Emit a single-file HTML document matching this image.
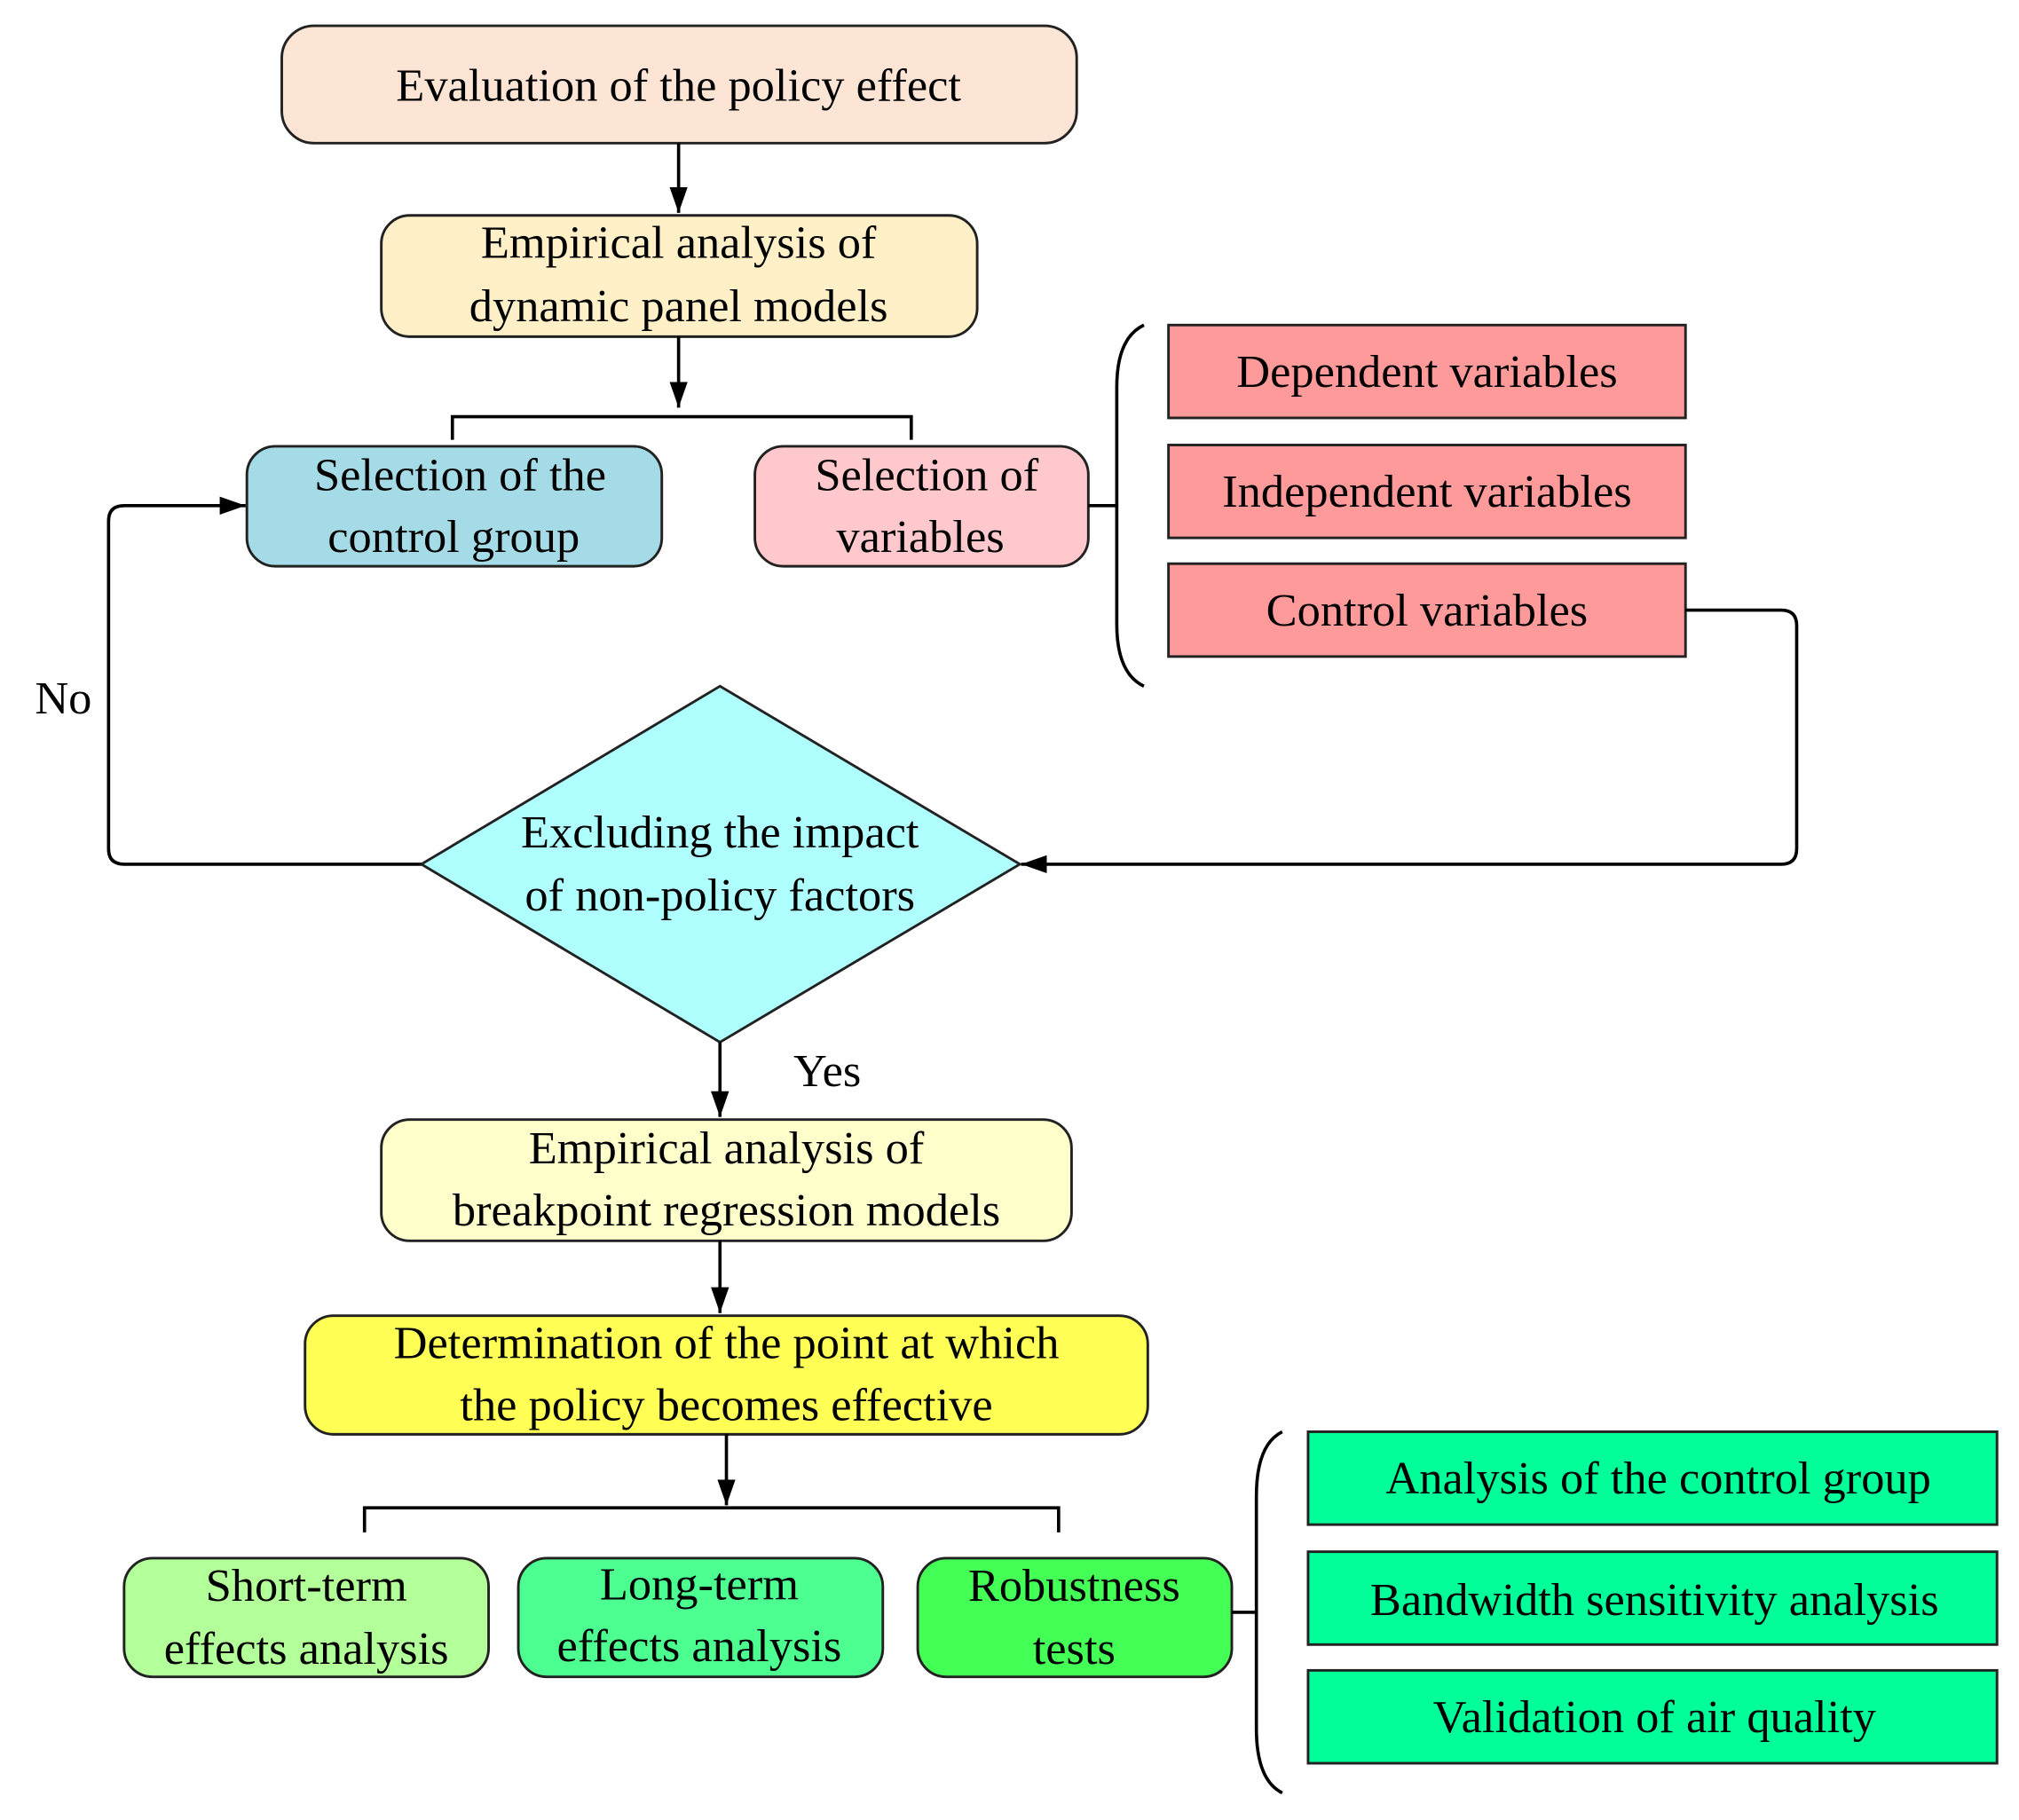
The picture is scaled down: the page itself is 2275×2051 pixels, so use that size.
<!DOCTYPE html>
<html><head><meta charset="utf-8"><style>html,body{margin:0;padding:0;background:#fff}svg{display:block}</style></head>
<body>
<svg width="2275" height="2051" viewBox="0 0 1562 1411" preserveAspectRatio="none" xmlns="http://www.w3.org/2000/svg">
<defs><marker id="a" markerWidth="10" markerHeight="10" refX="9" refY="5" orient="auto" markerUnits="userSpaceOnUse" viewBox="0 0 10 10"><path d="M0,0 L10,5 L0,10 z" fill="#000"/></marker>
<marker id="b" markerWidth="20" markerHeight="20" refX="20" refY="10" orient="auto" markerUnits="userSpaceOnUse" viewBox="0 0 20 20"><path d="M0,3 L20,10 L0,17 z" fill="#000"/></marker></defs>
<g font-family="Liberation Serif, serif" font-size="36" text-anchor="middle" fill="#000" stroke="#222" stroke-width="2">
<rect x="218" y="20" width="615" height="91" rx="25" fill="#fde5d6"/>
<rect x="295" y="167" width="461" height="94" rx="22" fill="#fff0c8"/>
<rect x="191" y="346" width="321" height="93" rx="22" fill="#a5dbe6"/>
<rect x="584" y="346" width="258" height="93" rx="22" fill="#ffc8cc"/>
<rect x="904" y="252" width="400" height="72" fill="#ff9a9a"/>
<rect x="904" y="345" width="400" height="72" fill="#ff9a9a"/>
<rect x="904" y="437" width="400" height="72" fill="#ff9a9a"/>
<polygon points="557,532 789,670 557,808 326,670" fill="#b0ffff"/>
<rect x="295" y="868" width="534" height="94" rx="22" fill="#ffffcc"/>
<rect x="236" y="1020" width="652" height="92" rx="22" fill="#ffff55"/>
<rect x="96" y="1208" width="282" height="92" rx="22" fill="#b3ff99"/>
<rect x="401" y="1208" width="282" height="92" rx="22" fill="#4cff90"/>
<rect x="710" y="1208" width="243" height="92" rx="22" fill="#44ff55"/>
<rect x="1012" y="1110" width="533" height="72" fill="#00ff99"/>
<rect x="1012" y="1203" width="533" height="72" fill="#00ff99"/>
<rect x="1012" y="1295" width="533" height="72" fill="#00ff99"/>
</g>
<g fill="none" stroke="#000" stroke-width="2.5">
<line x1="525" y1="111" x2="525" y2="165" marker-end="url(#b)"/>
<line x1="525" y1="261" x2="525" y2="316" marker-end="url(#b)"/>
<path d="M350,341 V323 H705 V341"/>
<line x1="842" y1="392" x2="864" y2="392"/>
<path d="M885,252 Q864,262 864,300 V484 Q864,522 885,532"/>
<path d="M1304,473 H1378 Q1390,473 1390,485 V658 Q1390,670 1378,670 H790" marker-end="url(#b)"/>
<path d="M326,670 H96 Q84,670 84,658 V404 Q84,392 96,392 H190" marker-end="url(#b)"/>
<line x1="557" y1="808" x2="557" y2="866" marker-end="url(#b)"/>
<line x1="557" y1="962" x2="557" y2="1018" marker-end="url(#b)"/>
<line x1="562" y1="1112" x2="562" y2="1167" marker-end="url(#b)"/>
<path d="M282,1188 V1169 H819 V1188"/>
<line x1="953" y1="1250" x2="973" y2="1250"/>
<path d="M992,1110 Q972,1120 972,1160 V1340 Q972,1380 992,1390"/>
</g>
<g font-family="Liberation Serif, serif" font-size="36" text-anchor="middle" fill="#000">
<text x="525" y="78">Evaluation of the policy effect</text>
<text x="525" y="200">Empirical analysis of</text>
<text x="525" y="249">dynamic panel models</text>
<text x="356" y="380">Selection of the</text>
<text x="351" y="428">control group</text>
<text x="717" y="380">Selection of</text>
<text x="712" y="428">variables</text>
<text x="1104" y="300">Dependent variables</text>
<text x="1104" y="393">Independent variables</text>
<text x="1104" y="485">Control variables</text>
<text x="557" y="657">Excluding the impact</text>
<text x="557" y="706">of non-policy factors</text>
<text x="49" y="553">No</text>
<text x="640" y="842">Yes</text>
<text x="562" y="902">Empirical analysis of</text>
<text x="562" y="950">breakpoint regression models</text>
<text x="562" y="1053">Determination of the point at which</text>
<text x="562" y="1101">the policy becomes effective</text>
<text x="237" y="1241">Short-term</text>
<text x="237" y="1290">effects analysis</text>
<text x="541" y="1240">Long-term</text>
<text x="541" y="1288">effects analysis</text>
<text x="831" y="1241">Robustness</text>
<text x="831" y="1290">tests</text>
<text x="1283" y="1158">Analysis of the control group</text>
<text x="1280" y="1252">Bandwidth sensitivity analysis</text>
<text x="1280" y="1343">Validation of air quality</text>
</g>
</svg>
</body></html>
